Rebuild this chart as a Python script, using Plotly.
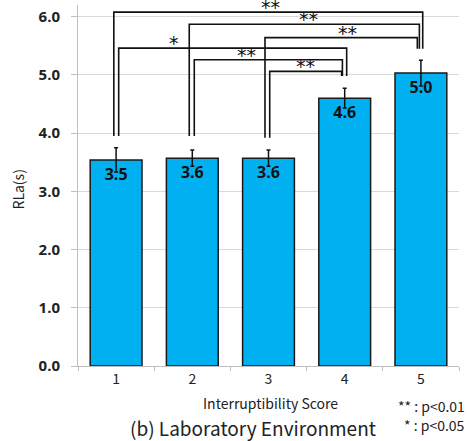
import plotly.graph_objects as go

categories = ["1", "2", "3", "4", "5"]
rla_mean = [3.54, 3.57, 3.57, 4.60, 5.03]
rla_err = [0.21, 0.14, 0.14, 0.17, 0.22]
y_ticks = [0, 1, 2, 3, 4, 5, 6]

# significance brackets: left leg x, right leg x, top y, leg bottoms, label, label x
br_left_x = [-0.03, 0.96, 0.034, 1.026, 1.954, 2.016]
br_right_x = [4.024, 3.98, 3.026, 2.97, 3.953, 2.96]
br_top = [6.077, 5.87, 5.46, 5.26, 5.64, 5.06]
br_left_bot = [3.95, 3.95, 3.95, 3.95, 3.92, 3.92]
br_right_bot = [5.45, 5.45, 4.98, 4.98, 5.45, 4.98]
br_label = ["**", "**", "*", "**", "**", "**"]
br_label_x = [2.02, 2.53, 0.76, 1.705, 3.04, 2.48]

ML, MR, MT, MB = 78, 9, 5, 75
W, H = 468, 441

fig = go.Figure()
fig.add_trace(go.Bar(
    x=categories, y=rla_mean,
    marker=dict(color="#00b0f0", line=dict(color="#1a1a1a", width=1.5)),
    error_y=dict(type="data", array=rla_err, color="#111111", thickness=1.5, width=2),
    texttemplate="%{y:.1f}", textposition="inside", insidetextanchor="end",
    textfont=dict(family="Open Sans", size=16, color="#111111", weight="bold"),
    constraintext="none",
))

shapes = []
annotations = []
for i in range(len(br_top)):
    shapes.append(dict(type="path", xref="x", yref="y",
                       path=f"M {br_left_x[i]},{br_left_bot[i]} L {br_left_x[i]},{br_top[i]} "
                            f"L {br_right_x[i]},{br_top[i]} L {br_right_x[i]},{br_right_bot[i]}",
                       line=dict(color="#111111", width=1.6)))
    annotations.append(dict(x=br_label_x[i], y=br_top[i], xref="x", yref="y",
                            text=br_label[i], showarrow=False, yanchor="middle", yshift=5,
                            font=dict(family="DejaVu Sans", size=19, color="#111111")))


def px_to_paper(px, py):
    return (px - ML) / (W - ML - MR), (H - MB - py) / (H - MT - MB)


for (px, py, txt, size, anchor, angle) in [
    (17.5, 190, "RLa(s)", 14, "center", -90),
    (270, 403, "Interruptibility Score", 14, "center", 0),
    (253, 427, "(b) Laboratory Environment", 19, "center", 0),
    (467, 406, "** : p<0.01", 14, "right", 0),
    (467, 425, "* : p<0.05", 14, "right", 0),
]:
    xp, yp = px_to_paper(px, py)
    annotations.append(dict(x=xp, y=yp, xref="paper", yref="paper", text=txt, showarrow=False,
                            xanchor=anchor, yanchor="middle", textangle=angle,
                            font=dict(family="Noto Sans CJK JP", size=size, color="#222222")))

fig.update_layout(
    width=W, height=H,
    margin=dict(l=ML, r=MR, t=MT, b=MB),
    plot_bgcolor="white", paper_bgcolor="white",
    showlegend=False, bargap=0.32,
    shapes=shapes, annotations=annotations,
)

fig.update_xaxes(type="category", range=[-0.5, 4.5], showline=True, linecolor="#bfbfbf", linewidth=1,
                 tickson="boundaries", ticks="outside", ticklen=4, tickcolor="#bfbfbf",
                 showgrid=False, tickfont=dict(family="Noto Sans CJK JP", size=14, color="#222222"))
fig.update_yaxes(range=[0, 6.2], tickvals=y_ticks, tickformat=".1f", showline=True, linecolor="#bfbfbf",
                 ticks="outside", ticklen=6, tickcolor="#bfbfbf", ticklabelstandoff=8,
                 showgrid=True, gridcolor="#d9d9d9", zeroline=False,
                 tickfont=dict(family="Open Sans", size=15, color="#222222", weight="bold"))

fig.write_html("out.html", config={"displayModeBar": False},
               post_script="document.body.style.margin='0px';")
